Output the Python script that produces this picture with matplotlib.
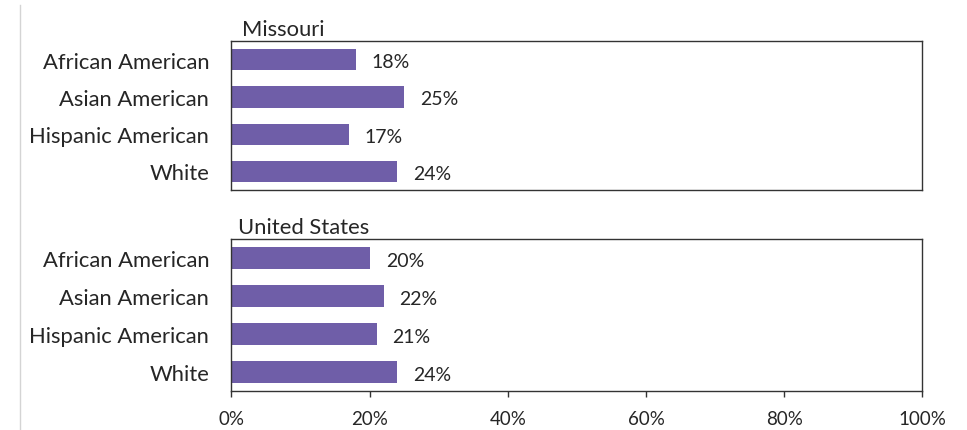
import matplotlib
matplotlib.use("Agg")
import matplotlib.pyplot as plt
from matplotlib.lines import Line2D
from matplotlib.ticker import PercentFormatter

# data
groups = ["African American", "Asian American", "Hispanic American", "White"]
missouri = [18, 25, 17, 24]
united_states = [20, 22, 21, 24]
panel_titles = ["Missouri", "United States"]
x_ticks = [0, 20, 40, 60, 80, 100]

bar_color = "#6F5EA8"
text_color = "#262626"
spine_color = "#333333"

plt.rcParams["font.family"] = ["Lato", "DejaVu Sans"]

fig = plt.figure(figsize=(9.67, 4.31), dpi=100)
ax_mo = fig.add_axes([0.2394, 0.5568, 0.7145, 0.3457])
ax_us = fig.add_axes([0.2394, 0.0905, 0.7145, 0.3527])

# thin gray rule on the left
fig.add_artist(Line2D([0.0207, 0.0207], [0.0, 0.985], color="#d4d4d4",
                      lw=1.0, transform=fig.transFigure))

for ax, vals, title, tx in [(ax_mo, missouri, panel_titles[0], 0.0145),
                            (ax_us, united_states, panel_titles[1], 0.009)]:
    bars = ax.barh(range(len(groups)), vals, height=0.57, color=bar_color)
    for b, v in zip(bars, vals):
        ax.annotate(f"{v}%", (b.get_width(), b.get_y() + b.get_height() / 2),
                    xytext=(11.5, -1.5), textcoords="offset points",
                    va="center", ha="left", fontsize=14, color=text_color)
    ax.set_xlim(0, 100)
    ax.set_ylim(3.5, -0.5)
    ax.set_yticks(range(len(groups)))
    ax.set_yticklabels(groups, fontsize=15.8, color=text_color)
    ax.tick_params(axis="y", length=0, pad=16)
    for s in ax.spines.values():
        s.set_color(spine_color)
        s.set_linewidth(1.0)
    ax.text(tx, 1.015, title, transform=ax.transAxes, va="bottom",
            ha="left", fontsize=15.8, color=text_color)

ax_mo.set_xticks([])
ax_us.set_xticks(x_ticks)
ax_us.xaxis.set_major_formatter(PercentFormatter(decimals=0))
ax_us.tick_params(axis="x", direction="out", length=4.5, width=1.0,
                  color=spine_color, labelsize=13.5, labelcolor=text_color,
                  pad=9.5)

fig.savefig("out.png", dpi=100)
